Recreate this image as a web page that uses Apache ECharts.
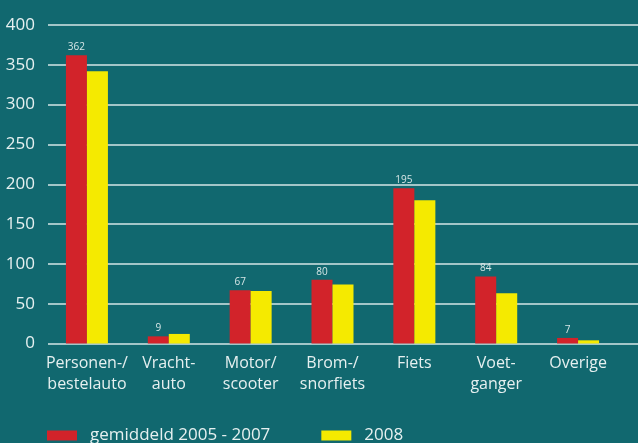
<!DOCTYPE html>
<html>
<head>
<meta charset="utf-8">
<script src="https://cdn.jsdelivr.net/npm/echarts@6/dist/echarts.min.js"></script>
<style>
html,body{margin:0;padding:0;background:#11686f;}
#c{width:638px;height:443px;}
</style>
</head>
<body>
<div id="c"></div>
<script>
var categories = ['Personen-/\nbestelauto', 'Vracht-\nauto', 'Motor/\nscooter', 'Brom-/\nsnorfiets', 'Fiets', 'Voet-\nganger', 'Overige'];
var seriesNames = ['gemiddeld 2005 - 2007', '2008'];
var avg2005_2007 = [362, 9, 67, 80, 195, 84, 7];
var y2008 = [342, 12, 66, 74, 180, 63, 4];
var yTicks = [0, 50, 100, 150, 200, 250, 300, 350, 400];

var FONT = '"Open Sans", sans-serif';
var TXT = '#e6f0f0';
var chart = echarts.init(document.getElementById('c'), null, {renderer: 'canvas'});
var yMin = yTicks[0], yMax = yTicks[yTicks.length - 1], yInt = yTicks[1] - yTicks[0];
chart.setOption({
  backgroundColor: '#11686f',
  animation: false,
  textStyle: {fontFamily: FONT},
  grid: [
    {left: 46, right: 19, top: 25, bottom: 99.5, containLabel: false},
    {left: 48, right: 0, top: 25, bottom: 99.5, containLabel: false}
  ],
  legend: {
    left: 47, top: 427, padding: 0,
    itemWidth: 30, itemHeight: 10, itemGap: 51,
    icon: 'rect',
    textStyle: {color: TXT, fontSize: 17, fontFamily: FONT, padding: [0, 0, 0, 8]},
    data: seriesNames
  },
  xAxis: [
    {type: 'category', gridIndex: 0, data: categories,
     axisLine: {show: false}, axisTick: {show: false},
     axisLabel: {color: TXT, fontSize: 16, fontFamily: FONT, lineHeight: 21, margin: 9, interval: 0}},
    {type: 'value', gridIndex: 1, show: false, min: 0, max: 1}
  ],
  yAxis: [
    {type: 'value', gridIndex: 0, min: yMin, max: yMax, interval: yInt, show: false},
    {type: 'value', gridIndex: 1, min: yMin, max: yMax, interval: yInt,
     axisLine: {show: false}, axisTick: {show: false},
     axisLabel: {color: TXT, fontSize: 17, fontFamily: FONT, margin: 13, padding: [0, 0, 6, 0]},
     splitLine: {show: true, lineStyle: {color: '#d4e6e6', width: 1.5}}}
  ],
  series: [
    {name: seriesNames[0], type: 'bar', xAxisIndex: 0, yAxisIndex: 0, data: avg2005_2007,
     barWidth: 21, barGap: '0%', itemStyle: {color: '#d2232a'},
     label: {show: true, position: 'top', distance: 3, color: '#d6e6e6', fontSize: 10, fontFamily: FONT}},
    {name: seriesNames[1], type: 'bar', xAxisIndex: 0, yAxisIndex: 0, data: y2008,
     barWidth: 21, barGap: '0%', itemStyle: {color: '#f5ea00'}}
  ]
});
</script>
</body>
</html>
